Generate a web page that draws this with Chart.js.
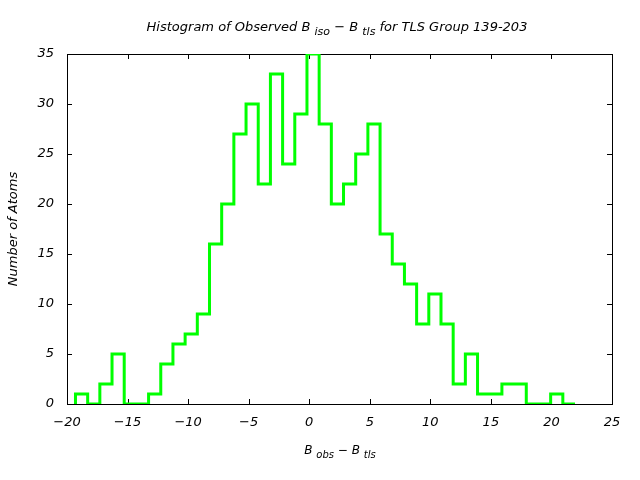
<!DOCTYPE html>
<html>
<head>
<meta charset="utf-8">
<script src="https://cdn.jsdelivr.net/npm/chart.js@4/dist/chart.umd.min.js"></script>
<style>
  html, body { margin: 0; padding: 0; background: #fff; }
  #wrap { width: 640px; height: 480px; position: relative; }
</style>
</head>
<body>
<div id="wrap"><canvas id="histChart"></canvas></div>
<script>
// histogram bins (B_obs - B_tls), counts
const binStart = -19.3;
const binWidth = 1.006;
const binCounts = [1, 0, 2, 5, 0, 0, 1, 4, 6, 7, 9, 16, 20, 27, 30, 22, 33, 24, 29, 35,
                   28, 20, 22, 25, 28, 17, 14, 12, 8, 11, 8, 2, 5, 1, 1, 2, 2, 0, 0, 1, 0];
const xTicks = [-20, -15, -10, -5, 0, 5, 10, 15, 20, 25];
const yTicks = [0, 5, 10, 15, 20, 25, 30, 35];

const FONT = '"DejaVu Sans", sans-serif';
const MINUS = '\u2212';

// staircase outline built from the bins
const steps = [];
binCounts.forEach((c, i) => {
    const lo = binStart + i * binWidth;
    const hi = lo + binWidth;
    if (i === 0) steps.push({ x: lo, y: 0 });
    steps.push({ x: lo, y: c });
    steps.push({ x: hi, y: c });
});

function drawRich(ctx, parts, cx, cy, size) {
    const subSize = size - 2;
    let total = 0;
    parts.forEach(p => {
        ctx.font = `italic ${p.sub ? subSize : size}px ${FONT}`;
        p.w = ctx.measureText(p.t).width;
        total += p.w;
    });
    let x = cx - total / 2;
    ctx.textAlign = 'left';
    ctx.textBaseline = 'middle';
    parts.forEach(p => {
        ctx.font = `italic ${p.sub ? subSize : size}px ${FONT}`;
        ctx.fillText(p.t, x, cy + (p.sub ? 4 : 0));
        x += p.w;
    });
}

const framePlugin = {
    id: 'frame',
    beforeDatasetsDraw(chart) {
        const { ctx, chartArea: a, scales } = chart;
        ctx.save();
        ctx.strokeStyle = '#000';
        ctx.lineWidth = 1;
        ctx.strokeRect(a.left + 0.5, a.top + 0.5, a.right - a.left, a.bottom - a.top);
        ctx.beginPath();
        xTicks.forEach(v => {
            const px = Math.round(scales.x.getPixelForValue(v)) + 0.5;
            ctx.moveTo(px, a.bottom); ctx.lineTo(px, a.bottom - 5);
            ctx.moveTo(px, a.top); ctx.lineTo(px, a.top + 5);
        });
        yTicks.forEach(v => {
            const py = Math.round(scales.y.getPixelForValue(v)) + 0.5;
            ctx.moveTo(a.left, py); ctx.lineTo(a.left + 5, py);
            ctx.moveTo(a.right, py); ctx.lineTo(a.right - 5, py);
        });
        ctx.stroke();
        ctx.restore();
    },
    afterDraw(chart) {
        const { ctx } = chart;
        ctx.save();
        ctx.fillStyle = '#000';
        drawRich(ctx, [
            { t: 'Histogram of Observed B ' }, { t: 'iso', sub: true },
            { t: ' ' + MINUS + ' B ' }, { t: 'tls', sub: true },
            { t: ' for TLS Group 139-203' }
        ], 337, 28, 13);
        drawRich(ctx, [
            { t: 'B ' }, { t: 'obs', sub: true }, { t: ' ' + MINUS + ' B ' }, { t: 'tls', sub: true }
        ], 340, 451, 12);
        ctx.translate(14, 229);
        ctx.rotate(-Math.PI / 2);
        drawRich(ctx, [{ t: 'Number of Atoms' }], 0, 0, 13);
        ctx.restore();
    }
};

const tickFont = { family: FONT, size: 13, style: 'italic' };

new Chart(document.getElementById('histChart'), {
    type: 'line',
    data: {
        datasets: [{
            data: steps,
            borderColor: '#00ff00',
            borderWidth: 3,
            pointRadius: 0,
            tension: 0,
            fill: false,
            borderJoinStyle: 'miter'
        }]
    },
    options: {
        responsive: true,
        maintainAspectRatio: false,
        animation: false,
        layout: { padding: { left: 0, right: 28, top: 54, bottom: 0 } },
        plugins: {
            legend: { display: false },
            tooltip: { enabled: false }
        },
        scales: {
            x: {
                type: 'linear',
                min: -20,
                max: 25,
                afterBuildTicks: s => { s.ticks = xTicks.map(v => ({ value: v })); },
                afterFit: s => { s.height = 76; },
                grid: { display: false, drawTicks: false },
                border: { display: false },
                ticks: {
                    padding: 11,
                    color: '#000',
                    font: tickFont,
                    callback: v => String(v).replace('-', MINUS)
                }
            },
            y: {
                min: 0,
                max: 35,
                afterBuildTicks: s => { s.ticks = yTicks.map(v => ({ value: v })); },
                afterFit: s => { s.width = 67; },
                grid: { display: false, drawTicks: false },
                border: { display: false },
                ticks: {
                    padding: 13,
                    color: '#000',
                    font: tickFont
                }
            }
        }
    },
    plugins: [framePlugin]
});
</script>
</body>
</html>
